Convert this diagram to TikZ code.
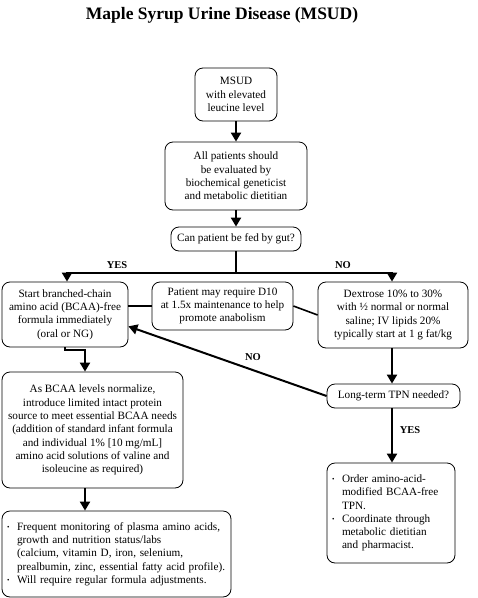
\documentclass[tikz,border=0pt]{standalone}
\usepackage{fontspec}
\setmainfont{Liberation Serif}
\usetikzlibrary{arrows.meta,calc}
\newcommand{\bul}{\makebox[10pt][l]{\raisebox{0.5pt}{\scriptsize\textbullet}}}
\newcommand{\ind}{\hspace*{10pt}}
\begin{document}
\begin{tikzpicture}[x=1pt,y=-1pt,
 box/.style={draw,line width=0.8pt,rounded corners=8pt,align=center,inner sep=0pt,font=\fontsize{11.2}{13.3}\selectfont},
 lbox/.style={box,align=left,inner xsep=5pt},
 arr/.style={line width=2pt,-{Triangle[width=10pt,length=9pt]}},
 ln/.style={line width=2pt},
 thin/.style={line width=1.6pt},
 lbl/.style={font=\bfseries\fontsize{10.5}{12}\selectfont}]
\useasboundingbox (0,0) rectangle (478,598);
\node[font=\bfseries\fontsize{17.5}{20}\selectfont] (title) at (222,15) {Maple Syrup Urine Disease (MSUD)};
\node[box,minimum width=82pt,minimum height=53pt] (b1) at (236,94.5) {MSUD\\with elevated\\leucine level};
\node[box,minimum width=142pt,minimum height=68pt] (b2) at (236,176) {All patients should\\be evaluated by\\biochemical geneticist\\and metabolic dietitian};
\node[box,minimum width=130pt,minimum height=24pt] (b3) at (236,239) {Can patient be fed by gut?};
\node[box,minimum width=126pt,minimum height=65pt] (b4) at (65,314.5) {Start branched-chain\\amino acid (BCAA)-free\\formula immediately\\(oral or NG)};
\node[box,minimum width=141pt,minimum height=48pt] (bm) at (222.5,306) {Patient may require D10\\at 1.5x maintenance to help\\promote anabolism};
\node[box,minimum width=150pt,minimum height=66pt] (br) at (393,315) {Dextrose 10\% to 30\%\\with ½ normal or normal\\saline; IV lipids 20\%\\typically start at 1 g fat/kg};
\node[box,minimum width=181pt,minimum height=116pt] (b5) at (92.5,430) {As BCAA levels normalize,\\introduce limited intact protein\\source to meet essential BCAA needs\\(addition of standard infant formula\\and individual 1\% [10 mg/mL]\\amino acid solutions of valine and\\isoleucine as required)};
\node[box,minimum width=133pt,minimum height=24pt] (bl) at (393.5,396) {Long-term TPN needed?};
\node[lbox,text width=219pt,minimum height=86pt] (b6) at (116.5,554) {\mbox{\bul Frequent monitoring of plasma amino acids,}\\\mbox{\ind growth and nutrition status/labs}\\\mbox{\ind (calcium, vitamin D, iron, selenium,}\\\mbox{\ind prealbumin, zinc, essential fatty acid profile).}\\\mbox{\bul Will require regular formula adjustments.}};
\node[lbox,text width=118pt,minimum height=100pt] (b7) at (391,513) {\mbox{\bul Order amino-acid-}\\\mbox{\ind modified BCAA-free}\\\mbox{\ind TPN.}\\\mbox{\bul Coordinate through}\\\mbox{\ind metabolic dietitian}\\\mbox{\ind and pharmacist.}};
% connectors
\draw[arr] (b1) -- (b2);
\draw[arr] (b2) -- (b3);
\coordinate (j) at (236,273);
\coordinate (jl) at (67,273);
\coordinate (jr) at (392,273);
\draw[ln] (b3.south) -- (j);
\draw[arr] (j) -- (jl) -- (jl |- b4.north);
\draw[arr] (j) -- (jr) -- (jr |- br.north);
\node[lbl] (yes1) at (117,265) {YES};
\node[lbl] (no1) at (343,265) {NO};
\draw[thin] (bm.west) -- (bm.west -| b4.east);
\draw[thin] (bm.east) -- (br.west);
\draw[arr] (br.south -| jr) -- (bl.north -| jr);
\coordinate (b4in) at ($(b4.north east)!0.68!(b4.south east)$);
\draw[arr] (bl.west) -- (b4in);
\node[lbl] (no2) at (253,357) {NO};
\coordinate (k1) at (65,350);
\coordinate (k2) at (85,350);
\draw[arr] (b4.south) -- (k1) -- (k2) -- (k2 |- b5.north);
\draw[arr] (b5.south -| k2) -- (b6.north -| k2);
\draw[arr] (bl.south -| jr) -- (b7.north -| jr);
\node[lbl] (yes2) at (410,430) {YES};
\end{tikzpicture}
\end{document}
